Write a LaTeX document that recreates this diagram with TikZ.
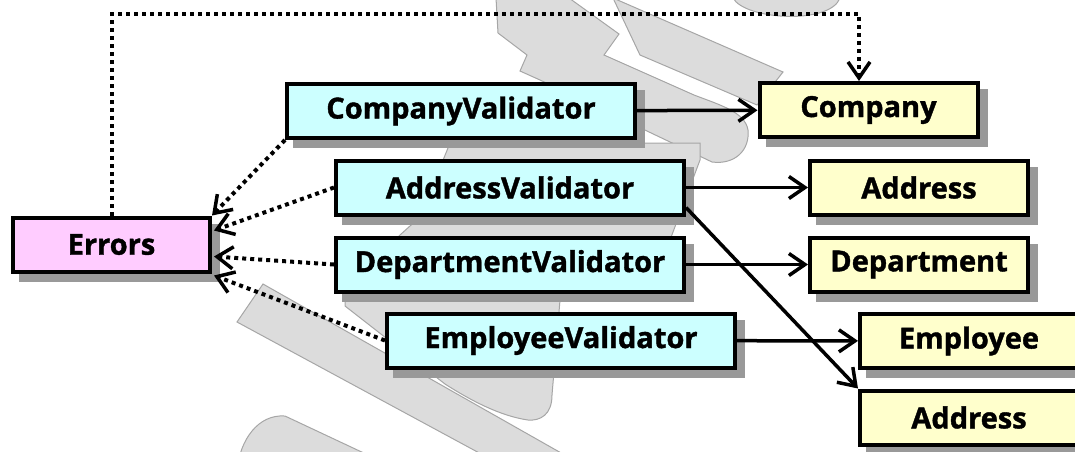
\documentclass[tikz,border=0pt]{standalone}
\usepackage{fontspec}
\setmainfont{Open Sans}[BoldFeatures={FakeBold=1.3}]
\usetikzlibrary{arrows.meta,shadows,calc}

\definecolor{errfill}{HTML}{FFCCFF}
\definecolor{valfill}{HTML}{CCFFFF}
\definecolor{entfill}{HTML}{FFFFCC}
\definecolor{shadowgray}{HTML}{999999}
\definecolor{wmfill}{HTML}{DCDCDC}
\definecolor{wmline}{HTML}{A6A6A6}

\begin{document}
\begin{tikzpicture}[x=1pt,y=-1pt,
  every node/.style={font=\bfseries\fontsize{29}{34}\selectfont},
  box/.style={draw=black, line width=4pt, rectangle, inner sep=0pt,
    minimum height=54pt,
    drop shadow={shadow xshift=8pt, shadow yshift=-8pt, fill=shadowgray,
      draw=shadowgray, line width=4pt, opacity=1}},
  errbox/.style={box, fill=errfill, minimum width=197pt},
  valbox/.style={box, fill=valfill, minimum width=348pt},
  entbox/.style={box, fill=entfill, minimum width=218pt},
  uses/.style={draw=black, line width=3.5pt,
    -{Straight Barb[length=16pt,width=22pt]}},
  reports/.style={draw=black, line width=4pt, dash pattern=on 4pt off 4pt,
    -{Straight Barb[length=16pt,width=22pt,line width=3.5pt]}},
  wm/.style={fill=wmfill, draw=wmline, line width=1pt}
]
\useasboundingbox (0,0) rectangle (1075,451);
\clip (0,0) rectangle (1075,451);

% faint background decoration
\path[wm] (496,-2) -- (569,-2) -- (619,34) -- (604,55) -- (694,95)
  .. controls (720,105) and (745,112) .. (748,130)
  .. controls (750,150) and (735,165) .. (712,162)
  -- (540,80) -- (520,71) -- (527,55) -- (498,33) -- cycle;
\path[wm] (613,-2) -- (783,72) -- (757,105) -- (640,55) -- cycle;
\path[wm] (733,-2) .. controls (745,20) and (830,25) .. (840,-2) -- cycle;
\path[wm] (450,143) -- (700,143) -- (700,160) -- (670,240) -- (560,300)
  -- (552,395) .. controls (552,415) and (540,421) .. (528,420)
  .. controls (500,416) and (470,400) .. (445,384)
  -- (345,306) -- (345,294) -- (400,235) -- (420,217) -- cycle;
\path[wm] (263,284) -- (237,322) -- (520,475) -- (600,475) -- cycle;
\path[wm] (237,470) .. controls (240,440) and (258,414) .. (285,416)
  -- (400,470) -- cycle;

% classes under validation
\node[entbox] (company)    at (868.5,110)   {Company};
\node[entbox] (address)    at (919,187.5)   {Address};
\node[entbox] (department) at (919,264.5)   {Department};
\node[entbox] (employee)   at (969,341)     {Employee};
\node[entbox] (address2)   at (969,417.5)   {Address};

% validators
\node[valbox] (cval) at (461,111)   {CompanyValidator};
\node[valbox] (aval) at (510,187.5) {AddressValidator};
\node[valbox] (dval) at (510,264.5) {DepartmentValidator};
\node[valbox] (eval) at (561,340.5) {EmployeeValidator};

% error collection
\node[errbox] (errors) at (111.5,244.5) {Errors};

% validator -> validated object
\draw[uses] (cval) -- (company);
\draw[uses] (aval) -- (address);
\draw[uses] (dval) -- (department);
\draw[uses] (eval) -- (employee);
\draw[uses] ($(aval.east)+(0,20)$) -- (address2.north west);

% validators report into Errors
\draw[reports] (cval.south west) -- (errors.north east);
\draw[reports] (aval.west) -- ($(errors.east)+(2,-14)$);
\draw[reports] (dval.west) -- ($(errors.east)+(2,12)$);
\draw[reports] (eval.west) -- ($(errors.east)+(2,31)$);

% Errors refers back to Company
\coordinate (topline) at (0,14);
\draw[reports] (errors.north) |- (topline -| {$(company.north)+(-9.5,0)$})
  -- ($(company.north)+(-9.5,0)$);
\end{tikzpicture}
\end{document}
